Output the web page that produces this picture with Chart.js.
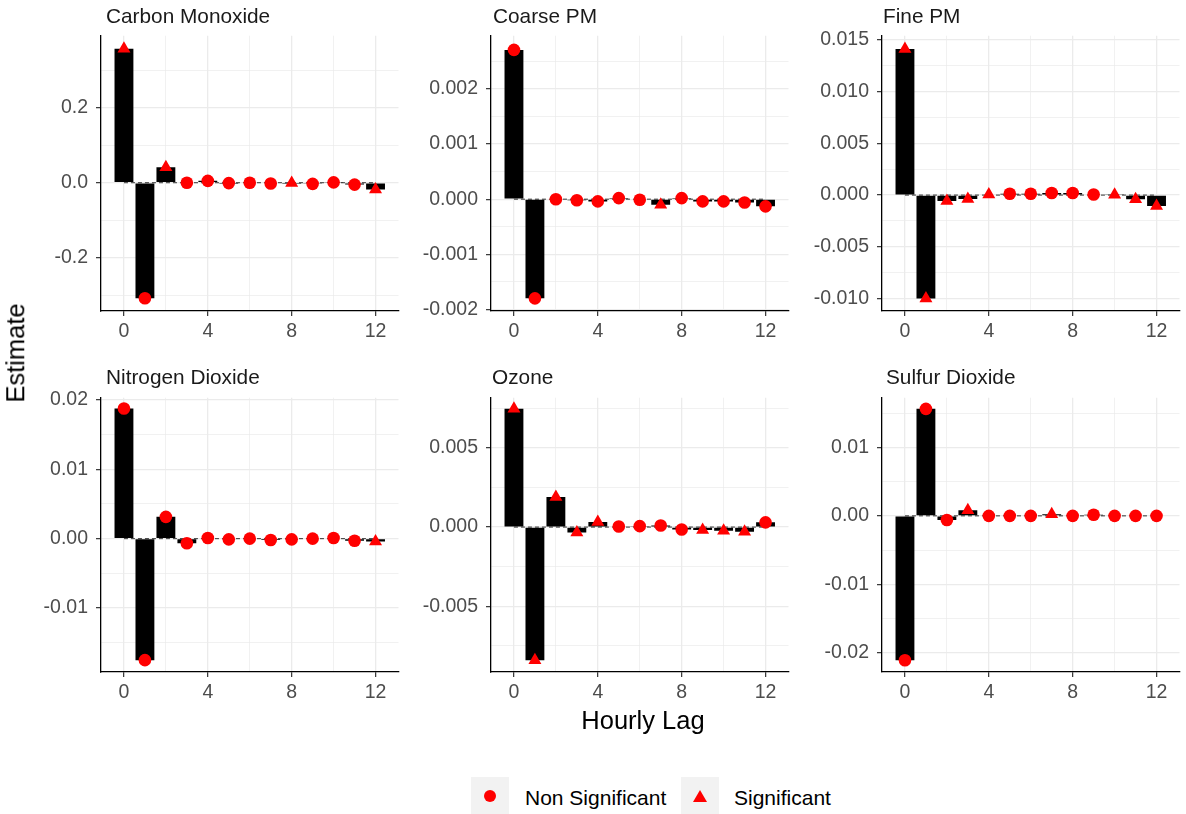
<!DOCTYPE html>
<html>
<head>
<meta charset="utf-8">
<script src="https://cdn.jsdelivr.net/npm/chart.js@4.4.1/dist/chart.umd.min.js"></script>
<style>
  body { margin: 0; width: 1186px; height: 814px; overflow: hidden; background: #fff;
         font-family: "Liberation Sans", Arial, sans-serif; position: relative; }
  canvas { position: absolute; }
  .txt { position: absolute; line-height: 1; white-space: nowrap; color: #000; }
  .strip { font-size: 20.8px; color: #1a1a1a; }
  .axtitle { font-size: 25.5px; }
  .key { position: absolute; width: 38px; height: 38px; background: #F2F2F2; }
  .dot { position: absolute; left: 13px; top: 13px; width: 12px; height: 12px; border-radius: 50%; background: #FF0000; }
  .tri { position: absolute; left: 12px; top: 13px; width: 0; height: 0;
         border-left: 7px solid transparent; border-right: 7px solid transparent; border-bottom: 12px solid #FF0000; }
  .legtxt { font-size: 21px; }
</style>
</head>
<body>
<canvas id="c1" width="395" height="335" style="left:10.5px;top:16px"></canvas>
<canvas id="c2" width="395" height="335" style="left:401px;top:16px"></canvas>
<canvas id="c3" width="395" height="335" style="left:792px;top:16px"></canvas>
<canvas id="c4" width="395" height="334" style="left:10.5px;top:378px"></canvas>
<canvas id="c5" width="395" height="334" style="left:401px;top:378px"></canvas>
<canvas id="c6" width="395" height="334" style="left:792px;top:378px"></canvas>

<div class="txt strip" style="left:106px;top:6.4px">Carbon Monoxide</div>
<div class="txt strip" style="left:493px;top:6.4px">Coarse PM</div>
<div class="txt strip" style="left:883px;top:6.4px">Fine PM</div>
<div class="txt strip" style="left:106px;top:367.4px">Nitrogen Dioxide</div>
<div class="txt strip" style="left:492px;top:367.4px">Ozone</div>
<div class="txt strip" style="left:886px;top:367.4px">Sulfur Dioxide</div>

<div class="txt axtitle" style="left:643px;top:708.4px;transform:translateX(-50%)">Hourly Lag</div>
<div class="txt axtitle" style="left:16px;top:353px;transform:translate(-50%,-50%) rotate(-90deg)">Estimate</div>

<div class="key" style="left:471px;top:777px"><span class="dot"></span></div>
<div class="txt legtxt" style="left:525px;top:787.2px">Non Significant</div>
<div class="key" style="left:681px;top:777px"><span class="tri"></span></div>
<div class="txt legtxt" style="left:734px;top:787.2px">Significant</div>

<script>
// hourly lags
const lags = [0, 1, 2, 3, 4, 5, 6, 7, 8, 9, 10, 11, 12];

// estimates per pollutant (1 = significant, 0 = non significant)
const carbonMonoxide = [0.357, -0.308, 0.041, 0.000, 0.005, -0.001, 0.000, -0.002, -0.001, -0.003, 0.001, -0.005, -0.018];
const carbonMonoxideSig = [1, 0, 1, 0, 0, 0, 0, 0, 1, 0, 0, 0, 1];

const coarsePM = [0.00271, -0.00180, 0.00000, -0.00002, -0.00004, 0.00002, -0.00001, -0.00010, 0.00002, -0.00004, -0.00004, -0.00006, -0.00013];
const coarsePMSig = [0, 0, 0, 0, 0, 0, 0, 1, 0, 0, 0, 0, 0];

const finePM = [0.01412, -0.01000, -0.00058, -0.00039, 0.00005, 0.00013, 0.00013, 0.00020, 0.00020, 0.00006, 0.00003, -0.00040, -0.00106];
const finePMSig = [1, 1, 1, 1, 1, 0, 0, 0, 0, 0, 1, 1, 1];

const nitrogenDioxide = [0.01874, -0.01749, 0.00314, -0.00065, 0.00010, -0.00010, 0.00000, -0.00020, -0.00010, 0.00000, 0.00010, -0.00030, -0.00040];
const nitrogenDioxideSig = [0, 0, 0, 0, 0, 0, 0, 0, 0, 0, 0, 0, 1];

const ozone = [0.00748, -0.00841, 0.00190, -0.00034, 0.00032, 0.00004, 0.00006, 0.00010, -0.00015, -0.00019, -0.00023, -0.00030, 0.00030];
const ozoneSig = [1, 1, 1, 1, 1, 0, 0, 0, 0, 1, 1, 1, 0];

const sulfurDioxide = [-0.02108, 0.01562, -0.00060, 0.00080, 0.00000, 0.00000, 0.00000, 0.00025, 0.00000, 0.00015, 0.00000, 0.00000, 0.00000];
const sulfurDioxideSig = [0, 0, 0, 1, 0, 0, 0, 1, 0, 0, 0, 0, 0];

// y axis: [min, max, label step, decimals]
const carbonMonoxideAxis = [-0.342, 0.392, 0.2, 1];
const coarsePMAxis = [-0.00203, 0.002968, 0.001, 3];
const finePMAxis = [-0.0112, 0.0154, 0.005, 3];
const nitrogenDioxideAxis = [-0.0192, 0.0203, 0.01, 2];
const ozoneAxis = [-0.00915, 0.00817, 0.005, 3];
const sulfurDioxideAxis = [-0.0228, 0.01725, 0.01, 2];

const xTickLabels = [0, 4, 8, 12];

const FONT = '"Liberation Sans", Arial, sans-serif';
const GRID = '#EBEBEB';

function isMultiple(v, step) {
  const r = v / step;
  return Math.abs(r - Math.round(r)) < 1e-6;
}

function makePanel(canvasId, values, sig, axis) {
  const [yMin, yMax, yStep, digits] = axis;
  const points = lags.map((l, i) => ({ x: l, y: values[i] }));

  new Chart(document.getElementById(canvasId), {
    type: 'bar',
    data: {
      datasets: [
        {
          type: 'scatter',
          data: points,
          pointStyle: sig.map(s => s ? 'triangle' : 'circle'),
          pointRadius: sig.map(s => s ? 7.5 : 6.3),
          pointHoverRadius: sig.map(s => s ? 7.5 : 6.3),
          backgroundColor: '#FF0000',
          borderColor: '#FF0000',
          borderWidth: 0,
          order: 0
        },
        {
          type: 'bar',
          data: points,
          backgroundColor: '#000000',
          categoryPercentage: 1,
          barPercentage: 0.9,
          order: 1
        },
        {
          type: 'line',
          data: [{ x: lags[0], y: 0 }, { x: lags[lags.length - 1], y: 0 }],
          borderColor: '#333333',
          borderWidth: 1,
          borderDash: [4, 3],
          pointRadius: 0,
          order: 2
        }
      ]
    },
    options: {
      responsive: false,
      animation: false,
      layout: { padding: { top: 10, left: 0, right: 0, bottom: 0 } },
      plugins: { legend: { display: false }, tooltip: { enabled: false } },
      scales: {
        x: {
          type: 'linear',
          min: -1.095,
          max: 13.095,
          offset: false,
          grid: {
            offset: false,
            color: GRID,
            lineWidth: c => xTickLabels.includes(c.tick.value) ? 1.3 : 0.7,
            tickColor: c => xTickLabels.includes(c.tick.value) ? '#333333' : 'rgba(0,0,0,0)',
            tickWidth: 1.2,
            tickLength: 5
          },
          border: { color: '#000000', width: 1.3 },
          ticks: {
            stepSize: 2,
            includeBounds: false,
            autoSkip: false,
            maxRotation: 0,
            padding: 4,
            color: '#4D4D4D',
            font: { family: FONT, size: 19.5 },
            callback: v => xTickLabels.includes(v) ? String(v) : ''
          },
          afterFit: s => { s.height = 40; }
        },
        y: {
          type: 'linear',
          min: yMin,
          max: yMax,
          grid: {
            color: GRID,
            lineWidth: c => isMultiple(c.tick.value, yStep) ? 1.3 : 0.7,
            tickColor: c => isMultiple(c.tick.value, yStep) ? '#333333' : 'rgba(0,0,0,0)',
            tickWidth: 1.2,
            tickLength: 5
          },
          border: { color: '#000000', width: 1.3 },
          ticks: {
            stepSize: yStep / 2,
            includeBounds: false,
            autoSkip: false,
            padding: 8,
            color: '#4D4D4D',
            font: { family: FONT, size: 19.5 },
            callback: v => {
              if (!isMultiple(v, yStep)) return '';
              const val = Math.abs(v) < 1e-12 ? 0 : v;
              return val.toFixed(digits);
            }
          },
          afterFit: s => { s.width = 90; }
        }
      }
    }
  });
}

makePanel('c1', carbonMonoxide, carbonMonoxideSig, carbonMonoxideAxis);
makePanel('c2', coarsePM, coarsePMSig, coarsePMAxis);
makePanel('c3', finePM, finePMSig, finePMAxis);
makePanel('c4', nitrogenDioxide, nitrogenDioxideSig, nitrogenDioxideAxis);
makePanel('c5', ozone, ozoneSig, ozoneAxis);
makePanel('c6', sulfurDioxide, sulfurDioxideSig, sulfurDioxideAxis);
</script>
</body>
</html>
